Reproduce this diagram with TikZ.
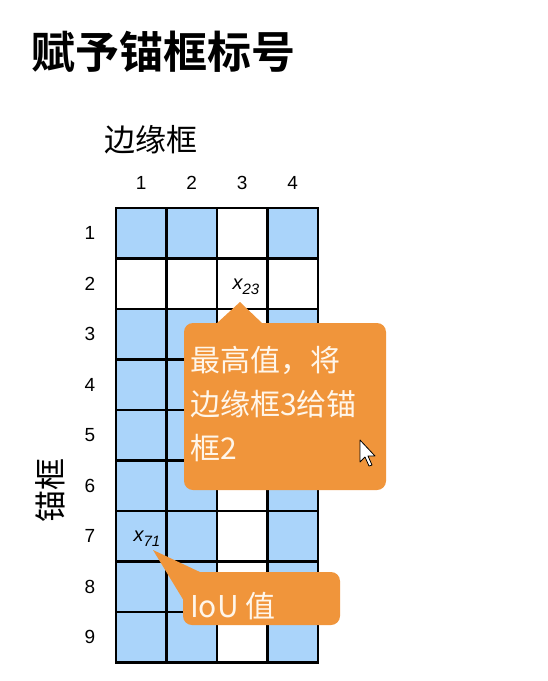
\documentclass[tikz,border=0pt]{standalone}
\usepackage{fontspec}
\setmainfont{Liberation Sans}
\newfontfamily\cjk{Noto Sans CJK SC}
\newfontfamily\cjkb{Noto Sans CJK SC Bold}
\definecolor{cellblue}{HTML}{AAD4FA}
\definecolor{callout}{HTML}{F0953B}
\definecolor{callouttext}{HTML}{FFF6EA}
\newcommand{\subvar}[2]{{\itshape\fontsize{20}{20}\selectfont #1\raisebox{-5pt}{\fontsize{15}{15}\selectfont #2}}}
\tikzset{
  cellbox/.style={draw=black, line width=2.3pt, minimum width=50.5pt, minimum height=50.5pt, inner sep=0pt},
  bluecell/.style={cellbox, fill=cellblue},
  whitecell/.style={cellbox, fill=white},
  numlabel/.style={font=\fontsize{19}{19}\selectfont, inner sep=0pt},
  callbox/.style={fill=callout, rounded corners=9pt},
  calltext/.style={text=callouttext, inner sep=0pt, align=left}
}
\begin{document}
\begin{tikzpicture}[x=1pt,y=-1pt]
\useasboundingbox (0,0) rectangle (547,681);
\fill[white] (0,0) rectangle (547,681);
% title
\node[anchor=west, inner sep=0pt, font=\cjkb\fontsize{44}{44}\selectfont] (title) at (31,52) {赋予锚框标号};
\node[anchor=west, inner sep=0pt, font=\cjk\fontsize{31}{31}\selectfont] (bbox) at (104,140) {边缘框};
\node[rotate=90, inner sep=0pt, font=\cjk\fontsize{32}{32}\selectfont] (anchor) at (50,490) {锚框};
% grid
\foreach \r in {1,...,9}{
  \foreach \c in {1,...,4}{
    \pgfmathsetmacro{\cx}{116+50.5*(\c-0.5)}
    \pgfmathsetmacro{\cy}{208+50.5*(\r-0.5)}
    \ifnum\r=2
      \node[whitecell] (c\r\c) at (\cx,\cy) {};
    \else\ifnum\c=3
      \node[whitecell] (c\r\c) at (\cx,\cy) {};
    \else
      \node[bluecell] (c\r\c) at (\cx,\cy) {};
    \fi\fi
  }
}
\foreach \c in {1,...,4}{
  \pgfmathsetmacro{\cx}{116+50.5*(\c-0.5)}
  \node[numlabel] (col\c) at (\cx,183) {\c};
}
\foreach \r in {1,...,9}{
  \pgfmathsetmacro{\cy}{208+50.5*(\r-0.5)}
  \node[numlabel] (row\r) at (90,\cy) {\r};
}
\node[inner sep=0pt] (x23) at (246,287) {\subvar{x}{23}};
\node[inner sep=0pt] (x71) at (147,539) {\subvar{x}{71}};
% callout 1
\fill[callbox] (184,323) rectangle (386,490);
\fill[callout] (216,324) -- (240,302) -- (263,324) -- cycle;
\node[calltext, anchor=north west, font=\cjk\fontsize{30}{44}\selectfont] (msg1) at (190,346) {最高值，将\\边缘框3给锚\\框2};
% callout 2
\fill[callbox] (183,572) rectangle (340,625);
\fill[callout] (153,550) -- (202,573) -- (184,601) -- cycle;
\node[calltext, anchor=west, font=\cjk\fontsize{30}{30}\selectfont] (msg2) at (190,606) {IoU 值};
% cursor
\filldraw[fill=white, draw=black, line width=0.8pt, line join=round]
  (360,440) -- (360,462) -- (365,457) -- (369,466) -- (372,465) -- (368,456) -- (375,456) -- cycle;
\end{tikzpicture}
\end{document}
